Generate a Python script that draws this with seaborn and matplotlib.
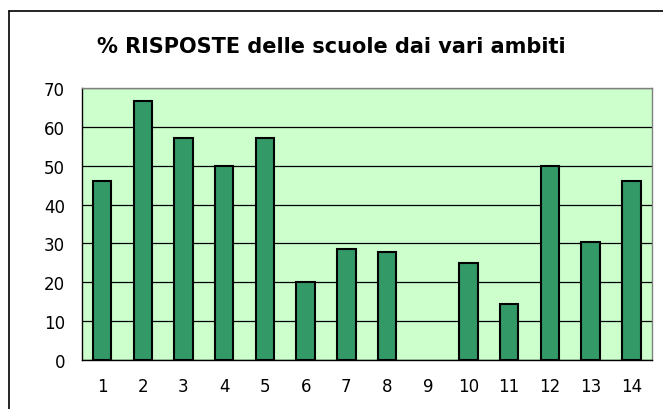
import matplotlib
matplotlib.use("Agg")
import matplotlib.pyplot as plt
import seaborn as sns
import pandas as pd
import numpy as np
from matplotlib.lines import Line2D

categories = ["1", "2", "3", "4", "5", "6", "7", "8", "9", "10", "11", "12", "13", "14"]
values = [46.0, 66.7, 57.1, 50.0, 57.1, 20.0, 28.6, 27.8, np.nan, 25.0, 14.3, 50.0, 30.3, 46.0]
title = "% RISPOSTE delle scuole dai vari ambiti"
yticks = [0, 10, 20, 30, 40, 50, 60, 70]

sns.set_style("white")
plt.rcParams['font.family'] = ['DejaVu Sans']
plt.rcParams['text.color'] = 'black'
plt.rcParams['xtick.color'] = 'black'
plt.rcParams['ytick.color'] = 'black'

df = pd.DataFrame({"cat": categories, "val": values})

W, H = 663, 410
fig = plt.figure(figsize=(W / 100, H / 100), dpi=100)
ax = fig.add_axes([81.7 / W, (H - 361) / H, 570 / W, 272 / H])
ax.set_facecolor("#CCFFCC")

sns.barplot(data=df, x="cat", y="val", order=categories, color="#339966",
            saturation=1, width=0.45, edgecolor="black", linewidth=1.5, ax=ax, zorder=3)

ax.set_ylim(0, 70)
ax.set_xlim(-0.5, len(categories) - 0.5)
ax.set_yticks(yticks)
ax.set_yticklabels([str(t) for t in yticks], fontsize=12, color="black")
ax.yaxis.grid(True, color="black", linewidth=0.9, zorder=0)
ax.set_axisbelow(True)
ax.set_xlabel("")
ax.set_ylabel("")

ax.set_xticks(range(len(categories)))
ax.set_xticklabels(categories, fontsize=12, color="black")
ax.tick_params(axis="x", which="major", length=0, pad=12)
ax.set_xticks(np.arange(-0.5, len(categories), 1.0), minor=True)
ax.tick_params(axis="x", which="minor", length=4, width=1, color="black", direction="out")
ax.tick_params(axis="y", length=6, width=1, color="black", direction="out", pad=6)

for side in ["left", "bottom"]:
    ax.spines[side].set_color("black")
    ax.spines[side].set_linewidth(1)
for side in ["top", "right"]:
    ax.spines[side].set_color("#808080")
    ax.spines[side].set_linewidth(1)

fig.text(331 / W, 1 - 47 / H, title, ha="center", va="center", fontsize=15,
         fontweight="bold", color="black", family=["DejaVu Sans"])

# outer chart frame (left and top edges visible)
fig.add_artist(Line2D([8.5 / W, 8.5 / W], [0, 1 - 11.5 / H], transform=fig.transFigure,
                      color="black", linewidth=1.2))
fig.add_artist(Line2D([8.5 / W, 1], [1 - 11.5 / H, 1 - 11.5 / H], transform=fig.transFigure,
                      color="black", linewidth=1.2))

fig.savefig("out.png", dpi=100)
